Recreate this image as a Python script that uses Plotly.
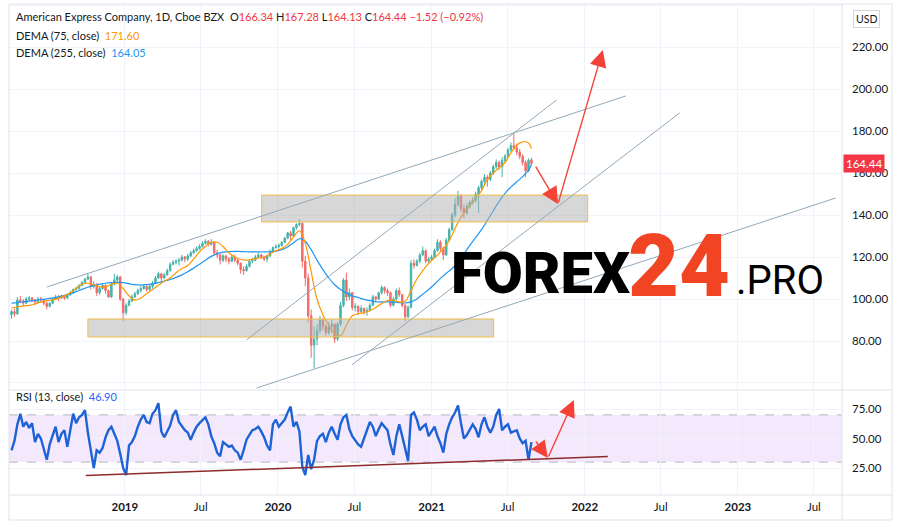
import plotly.graph_objects as go
import pandas as pd

# ---------------- data (weekly candles) ----------------
week_start = "2018-04-06"

opens = [92.5, 94, 93, 99.5, 99, 98, 100, 100.5, 99.5, 98.5, 100, 99.5, 98, 96.5, 98, 100, 101, 100.5, 101.5, 100.5,
         102, 103, 104.5, 105, 106.5, 108, 109.5, 110.5, 106, 107, 103, 105, 106.5, 104, 101, 107, 109, 110.5, 100, 93.5,
         97, 99, 101, 102.5, 104, 105, 106, 104.5, 106, 107.5, 110, 112, 110, 111.5, 113.5, 116.5, 117.5, 118, 118.5, 120,
         119, 120.5, 122, 123, 124, 125, 126.5, 127.5, 126, 127, 122, 121, 118.5, 120.5, 119, 118, 120, 118.5, 117, 114,
         113.5, 115.5, 118, 118.5, 120, 121, 120, 119, 120.5, 122.5, 124.5, 125,
         125.5, 127, 129, 131.5, 130, 134, 135.5, 136, 118, 110, 92, 78, 81, 85, 90, 87, 84, 87, 88, 81,
         88, 97, 109, 101, 103, 96, 96.5, 94, 95.5, 94, 94.5, 97, 101, 100, 103, 105.5, 104, 103, 97, 100,
         104, 102, 97, 91.5, 96, 117, 116, 118, 121, 123, 118, 119,
         120, 123, 127, 124, 121, 128, 133, 140, 145, 149, 143, 141, 144, 146, 147, 150, 153, 156, 158, 157,
         160, 163, 165, 163, 166, 168, 171, 173, 172, 170, 168, 165, 161, 166.34]
highs = [95, 95.5, 101, 101.5, 100, 101, 101.5, 101, 100, 101, 101, 100, 98.5, 98.5, 100.5, 102, 102, 102, 102, 102.5,
         104, 105, 106, 107, 108.5, 110, 112, 111, 108.5, 107.5, 106, 107.5, 107, 104.5, 108, 112, 111.5, 111, 100.5, 98,
         100, 102, 103.5, 105, 106, 107, 106.5, 107, 108.5, 111, 113, 112.5, 112.5, 114.5, 117.5, 118.5, 119, 119.5, 121, 120.5,
         121.5, 123, 124, 125, 126, 127.5, 128.5, 128, 128.5, 127.5, 123.5, 121.5, 121.5, 121, 120, 121, 121, 119, 117.5, 115.5,
         116.5, 119, 119.5, 121, 122, 121.5, 120.5, 121, 123.5, 125, 126, 126.5,
         127.5, 129.5, 132, 132.5, 134.5, 136, 138, 136.5, 120.5, 112, 95, 87, 88, 92, 91, 88, 89, 90, 88.5, 89,
         98.5, 110, 112.5, 105, 103.5, 98, 97, 97, 96, 96, 98, 102, 101.5, 103.5, 106.5, 106, 105, 103.5, 101, 105,
         105.5, 102.5, 97.5, 97, 118.5, 119, 119, 122, 125, 123.5, 120, 121,
         124, 128.5, 128, 125, 129, 134, 141, 148, 151.5, 150, 145, 145.5, 147, 148.5, 151, 154, 157, 159.5, 159, 161,
         164, 166.5, 166, 167.5, 169, 172, 174.5, 179, 174, 171.5, 169, 166, 167, 167.28]
lows = [90.5, 91.5, 92.5, 98, 96.5, 97.5, 99, 98.5, 97, 98, 98.5, 97, 95, 96, 97.5, 99.5, 99, 100, 99.5, 100,
        101.5, 102.5, 104, 104.5, 106, 107.5, 109, 104.5, 105, 101.5, 102, 104.5, 102.5, 100.5, 100.5, 106.5, 108, 99, 89.5, 92.5,
        96.5, 98.5, 100.5, 102, 103, 104.5, 103.5, 104, 105, 107, 109.5, 108.5, 109.5, 111, 113, 116, 116.5, 116, 118, 117.5,
        118, 120, 121.5, 122.5, 123.5, 124.5, 126, 125, 125.5, 121, 119.5, 116.5, 117.5, 117.5, 116.5, 117.5, 117.5, 116, 112, 111.5,
        113, 115, 117, 118, 119.5, 119, 118, 117.5, 120, 122, 124, 124,
        125, 126.5, 128.5, 128, 129.5, 133, 134.5, 115, 106, 89, 72, 67, 78, 83.5, 85, 82.5, 83, 84, 79, 80,
        87, 96, 99, 99.5, 94.5, 94, 92.5, 93.5, 92.5, 92, 94, 96.5, 98.5, 99.5, 102, 102.5, 101.5, 96, 96.5, 99.5,
        101, 96, 89.5, 91, 95.5, 114.5, 115.5, 117, 120.5, 117, 117, 118,
        119.5, 122.5, 122.5, 118.5, 120.5, 127.5, 132.5, 139, 144, 141.5, 138.5, 140, 143, 145, 146, 141, 152, 155, 153.5, 156,
        159, 162, 161.5, 158, 165, 167.5, 170, 171, 168.5, 166.5, 163.5, 158, 160.5, 164.13]
closes = [94, 93, 99.5, 99, 98, 100, 100.5, 99.5, 98.5, 100, 99.5, 98, 96.5, 98, 100, 101, 100.5, 101.5, 100.5, 102,
          103, 104.5, 105, 106.5, 108, 109.5, 110.5, 106, 107, 103, 105, 106.5, 104, 101, 107, 109, 110.5, 100, 93.5, 97,
          99, 101, 102.5, 104, 105, 106, 104.5, 106, 107.5, 110, 112, 110, 111.5, 113.5, 116.5, 117.5, 118, 118.5, 120, 119,
          120.5, 122, 123, 124, 125, 126.5, 127.5, 126, 127, 122, 121, 118.5, 120.5, 119, 118, 120, 118.5, 117, 114, 113.5,
          115.5, 118, 118.5, 120, 121, 120, 119, 120.5, 122.5, 124.5, 125, 125.5,
          127, 129, 131.5, 130, 134, 135.5, 136, 118, 110, 92, 78, 81, 85, 90, 87, 84, 87, 88, 81, 88,
          97, 109, 101, 103, 96, 96.5, 94, 95.5, 94, 94.5, 97, 101, 100, 103, 105.5, 104, 103, 97, 100, 104,
          102, 97, 91.5, 96, 117, 116, 118, 121, 123, 118, 119, 120,
          123, 127, 124, 121, 128, 133, 140, 145, 149, 143, 141, 144, 146, 147, 150, 153, 156, 158, 157, 160,
          163, 165, 163, 166, 168, 171, 173, 172, 170, 168, 165, 161, 166, 164.44]

# DEMA values read every second week (plus the last week)
dema75 = [95.7, 96.2, 96.7, 97, 97.7, 98.5, 99.2, 99.6, 100.3, 101.5, 103, 105, 107, 107.5, 106.8, 105.8, 105.8, 107, 107.5, 105,
          101.5, 99.5, 100.5, 102.5, 104.5, 106.5, 108.5, 110, 112.5, 114.5, 116, 119, 122.5, 125, 127, 127, 125, 122, 120, 118.8,
          118.5, 119, 119.5, 120, 121.5, 123, 124, 126, 129.5, 132.5, 126.5, 113, 100, 92.5, 87.5, 83.5, 82.5, 87.5, 92, 93,
          93.5, 94.5, 96, 97.8, 99.3, 99.3, 98.6, 98.8, 104, 109.5, 113.5, 117, 119.5, 122.4, 125.5, 130.5, 136.5, 141, 144.5, 148,
          151.5, 157, 160, 162.5, 165, 169.5, 173.2, 174.8, 174.3, 171.6]
dema255 = [98, 98.3, 98.7, 99, 99.4, 99.8, 100.1, 100.5, 101, 101.7, 102.5, 103.5, 104.6, 105.6, 106.4, 107, 107.5, 107.8, 108, 107.8,
           107.3, 106.8, 106.6, 106.8, 107.2, 107.8, 108.5, 109.3, 110.3, 111.5, 113, 114.7, 116.5, 118.5, 120.3, 121.6, 122.3, 122.6, 122.7, 122.6,
           122.5, 122.4, 122.4, 122.4, 122.5, 122.8, 123.5, 124.8, 126.8, 128.7, 127.5, 123.5, 118.5, 114, 110, 106.8, 104.5, 102.8, 101.5, 100.7,
           99.8, 99.2, 98.7, 98.6, 98.6, 98.5, 98.3, 98.1, 98.6, 100, 102.3, 104.5, 107, 109.8, 112.3, 114.5, 117.5, 121.5, 125.5, 129.3,
           133, 137.5, 142, 146.5, 150.3, 153.3, 155.8, 158.3, 161.3, 164.05]

rsi13 = [40, 48, 62, 71, 60, 64, 59, 63, 47, 54, 50, 40, 32, 45, 53, 60, 47, 54, 57, 43,
         57, 71, 63, 68, 70, 74, 55, 40, 25, 40, 38, 42, 51, 57, 60, 54, 48, 37, 25, 19,
         44, 47, 52, 60, 66, 70, 64, 63, 71, 74, 80, 56, 51, 56, 61, 70, 74, 64, 60, 57,
         55, 49, 55, 60, 63, 66, 68, 62, 52, 46, 38, 35, 47, 45, 43, 44, 40, 38, 32, 40,
         49, 53, 57, 58, 60, 56, 51, 44, 40, 62, 66, 60, 63, 66, 72, 77, 60, 64, 56, 26,
         19, 36, 24, 32, 48, 52, 54, 47, 55, 60, 54, 49, 62, 68, 70, 58, 52, 48, 45, 43,
         50, 58, 64, 60, 52, 58, 63, 60, 57, 45, 36, 52, 62, 52, 42, 31, 70, 72, 66, 57,
         60, 62, 52, 56, 60, 52, 46, 38, 54, 62, 68, 72, 78, 63, 50, 53, 57, 62, 58, 51,
         62, 68, 60, 55, 60, 70, 75, 57, 60, 62, 55, 56, 57, 50, 46, 48, 32, 46.9]

# analyst drawings: (date0, value0, date1, value1)
price_lines = [("2018-06-29", 105.7, "2022-04-09", 196.7),
               ("2019-10-18", 80.5, "2021-10-26", 194.8),
               ("2020-06-25", 68.6, "2022-08-15", 188.6),
               ("2019-11-11", 57.6, "2023-08-22", 148.1)]
zones = [("2019-11-23", 136.7, "2022-01-08", 149.5),
         ("2018-10-05", 81.9, "2021-05-29", 90.5)]
price_arrows = [("2021-09-04", 163.8, "2021-10-29", 145.2),
                ("2021-10-29", 145.2, "2022-02-13", 218.6)]
rsi_line = ("2018-09-30", 18.6, "2022-02-25", 34.7)
rsi_arrows = [("2021-09-04", 48.7, "2021-10-05", 33.5),
              ("2021-10-05", 33.5, "2021-12-06", 82.6)]

price_ticks = [60, 80, 100, 120, 140, 160, 180, 200, 220, 240]
rsi_ticks = [25, 50, 75]
time_ticks = ["2019-01-01", "2019-07-01", "2020-01-01", "2020-07-01", "2021-01-01",
              "2021-07-01", "2022-01-01", "2022-07-01", "2023-01-01", "2023-07-01"]
time_labels = ["<b>2019</b>", "Jul", "<b>2020</b>", "Jul", "<b>2021</b>", "Jul",
               "<b>2022</b>", "Jul", "<b>2023</b>", "Jul"]

# ---------------- figure ----------------
dates = pd.date_range(week_start, periods=len(closes), freq="7D")
dema_dates = list(dates[::2]) + [dates[-1]]

FONT = "Lato"
TXT = "#131722"
GRID = "#F0F3FA"
FRAME = "#E0E3EB"
RED = "#F23645"

fig = go.Figure()
fig.add_trace(go.Candlestick(
    x=dates, open=opens, high=highs, low=lows, close=closes,
    increasing=dict(line=dict(color="#26A69A", width=1), fillcolor="#26A69A"),
    decreasing=dict(line=dict(color="#EF5350", width=1), fillcolor="#EF5350"),
    whiskerwidth=0, opacity=0.85, hoverinfo="skip", showlegend=False,
    xaxis="x", yaxis="y"))
fig.add_trace(go.Scatter(x=dema_dates, y=dema255, mode="lines", line=dict(color="#2196F3", width=1.2, shape="spline"),
                         hoverinfo="skip", showlegend=False, xaxis="x", yaxis="y"))
fig.add_trace(go.Scatter(x=dema_dates, y=dema75, mode="lines", line=dict(color="#FF9800", width=1.2, shape="spline"),
                         hoverinfo="skip", showlegend=False, xaxis="x", yaxis="y"))
fig.add_trace(go.Scatter(x=dates, y=rsi13, mode="lines", line=dict(color="#1E63D6", width=2.4),
                         hoverinfo="skip", showlegend=False, xaxis="x", yaxis="y2"))

shapes = []
# RSI band
shapes.append(dict(type="rect", xref="paper", yref="y2", x0=0, x1=1, y0=30, y1=70,
                   fillcolor="#F3E8FC", line=dict(width=0), layer="below"))
for lv in (30, 70):
    shapes.append(dict(type="line", xref="paper", yref="y2", x0=0, x1=1, y0=lv, y1=lv,
                       line=dict(color="#B2B5BE", width=1, dash="dash"), layer="below"))
# zones
for d0, v0, d1, v1 in zones:
    shapes.append(dict(type="rect", xref="x", yref="y", x0=d0, x1=d1, y0=v0, y1=v1,
                       fillcolor="rgba(175,175,175,0.5)", line=dict(color="#F2BE45", width=1), layer="above"))
# trend lines
for d0, v0, d1, v1 in price_lines:
    shapes.append(dict(type="line", xref="x", yref="y", x0=d0, x1=d1, y0=v0, y1=v1,
                       line=dict(color="#93A9B9", width=1)))
d0, v0, d1, v1 = rsi_line
shapes.append(dict(type="line", xref="x", yref="y2", x0=d0, x1=d1, y0=v0, y1=v1,
                   line=dict(color="#8E2B2B", width=1.5)))
# frame
def px(xp):
    return (xp - 9) / 833.0
def py(yp):
    return (495 - yp) / 491.0
frame = [(9, 4, 892, 4), (9, 495, 892, 495), (9, 520, 892, 520), (9, 390, 892, 390),
         (9, 4, 9, 520), (842, 4, 842, 520), (892, 4, 892, 520)]
for a, b, c, d in frame:
    shapes.append(dict(type="line", xref="paper", yref="paper", x0=px(a), x1=px(c), y0=py(b), y1=py(d),
                       line=dict(color=FRAME, width=1)))

ann = []
for d0, v0, d1, v1 in price_arrows:
    ann.append(dict(x=d1, y=v1, ax=d0, ay=v0, xref="x", yref="y", axref="x", ayref="y", text="",
                    showarrow=True, arrowhead=2, arrowsize=2.4, arrowwidth=1.4, arrowcolor="#F44336", standoff=0))
for d0, v0, d1, v1 in rsi_arrows:
    ann.append(dict(x=d1, y=v1, ax=d0, ay=v0, xref="x", yref="y2", axref="x", ayref="y2", text="",
                    showarrow=True, arrowhead=2, arrowsize=2.4, arrowwidth=1.4, arrowcolor="#F44336", standoff=0))

def txt(x, y, s, size=11, **kw):
    d = dict(x=px(x), y=py(y), xref="paper", yref="paper", text=s, showarrow=False,
             xanchor="left", yanchor="middle", font=dict(family=FONT, size=size, color=TXT))
    d.update(kw)
    return d

r = lambda s: f'<span style="color:{RED}">{s}</span>'
ann.append(txt(14, 17, "American Express Company, 1D, Cboe BZX  O" + r("166.34") + " H" + r("167.28") +
               " L" + r("164.13") + " C" + r("164.44") + " " + r("−1.52 (−0.92%)")))
ann.append(txt(14, 35, 'DEMA (75, close)  <span style="color:#FF9800">171.60</span>'))
ann.append(txt(14, 52, 'DEMA (255, close)  <span style="color:#2196F3">164.05</span>'))
ann.append(txt(14, 396, 'RSI (13, close)  <span style="color:#2962FF">46.90</span>'))

# watermark
ann.append(txt(449, 273, "FOREX", font=dict(family="Roboto", size=58, color="#000000", weight=900)))
ann.append(txt(626, 265, "24", font=dict(family="Roboto", size=88, color="#F04423", weight=900)))
ann.append(txt(734, 280, ".PRO", font=dict(family="Roboto", size=40, color="#000000", weight=400)))

# price tag and currency
ann.append(dict(x=1.0, y=164.44, xref="paper", yref="y", text="164.44", showarrow=False, xanchor="left",
                yanchor="middle", xshift=1, bgcolor=RED, borderpad=2,
                font=dict(family=FONT, size=11.5, color="#FFFFFF")))
ann.append(dict(x=px(866), y=py(19), xref="paper", yref="paper", text="USD", showarrow=False, xanchor="center",
                yanchor="middle", bgcolor="#FFFFFF", bordercolor="#D1D4DC", borderwidth=1, borderpad=2,
                font=dict(family=FONT, size=10.5, color=TXT)))

fig.update_layout(
    width=901, height=524, margin=dict(l=9, r=59, t=4, b=29),
    paper_bgcolor="#FFFFFF", plot_bgcolor="#FFFFFF",
    font=dict(family=FONT, size=11, color=TXT),
    showlegend=False, hovermode=False,
    shapes=shapes, annotations=ann,
    xaxis=dict(type="date", range=["2018-03-31", "2023-09-06"], anchor="y2",
               tickvals=time_ticks, ticktext=time_labels, showgrid=True, gridcolor=GRID,
               showline=False, zeroline=False, ticks="", tickfont=dict(size=11.5, color=TXT),
               ticklabelstandoff=3, rangeslider=dict(visible=False), fixedrange=True),
    yaxis=dict(domain=[(495 - 389) / 491.0, 1], range=[57.14, 240.48], side="right", anchor="x",
               tickvals=price_ticks, ticktext=["" if v == 60 else f"{v:.2f}" for v in price_ticks],
               showgrid=True, gridcolor=GRID, zeroline=False, showline=False, ticks="",
               ticklabelstandoff=9, tickfont=dict(size=11.5, color=TXT)),
    yaxis2=dict(domain=[0, (495 - 391) / 491.0], range=[2.12, 90.25], side="right", anchor="x",
                tickvals=rsi_ticks, ticktext=[f"{v:.2f}" for v in rsi_ticks],
                showgrid=True, gridcolor=GRID, zeroline=False, showline=False, ticks="",
                ticklabelstandoff=9, tickfont=dict(size=11.5, color=TXT)),
)

fig.write_html("out.html", config={"displayModeBar": False},
               post_script="document.body.style.margin='0';")
